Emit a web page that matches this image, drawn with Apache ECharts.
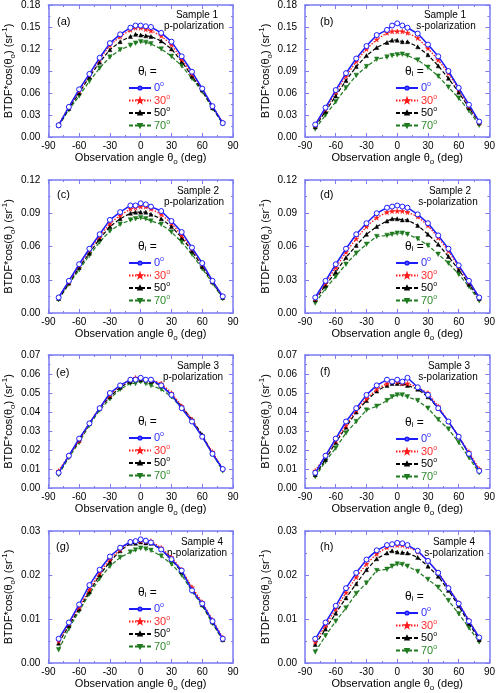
<!DOCTYPE html>
<html><head><meta charset="utf-8">
<script src="https://cdn.jsdelivr.net/npm/echarts@6/dist/echarts.min.js"></script>
<style>html,body{margin:0;padding:0;background:#fff}#c{width:498px;height:693px}</style>
</head><body><div id="c"></div>
<script>
const angles = [-80,-70,-60,-50,-40,-30,-20,-10,-5,0,5,10,20,30,40,50,60,70,80];
const incidences = ['0','30','50','70'];
const panelLetters = ['(a)','(b)','(c)','(d)','(e)','(f)','(g)','(h)'];
const sampleNames = ['Sample 1','Sample 1','Sample 2','Sample 2','Sample 3','Sample 3','Sample 4','Sample 4'];
const polNames = ['p-polarization','s-polarization','p-polarization','s-polarization','p-polarization','s-polarization','p-polarization','s-polarization'];
const yMaxes = [0.18,0.18,0.12,0.12,0.07,0.07,0.03,0.03];
const yIntervals = [0.03,0.03,0.03,0.03,0.01,0.01,0.01,0.01];

const s1p_0 = [0.016,0.041,0.065,0.086,0.108,0.128,0.140,0.149,0.152,0.152,0.151,0.150,0.142,0.130,0.110,0.089,0.066,0.042,0.019];
const s1p_30 = [0.017,0.041,0.063,0.085,0.106,0.125,0.137,0.146,0.149,0.149,0.147,0.145,0.138,0.126,0.106,0.086,0.066,0.042,0.020];
const s1p_50 = [0.016,0.039,0.060,0.082,0.102,0.119,0.130,0.137,0.140,0.139,0.138,0.137,0.131,0.120,0.103,0.083,0.064,0.040,0.019];
const s1p_70 = [0.015,0.037,0.056,0.076,0.094,0.109,0.119,0.125,0.128,0.130,0.129,0.127,0.120,0.110,0.097,0.080,0.062,0.039,0.018];

const s1s_0 = [0.017,0.040,0.064,0.087,0.107,0.124,0.139,0.146,0.152,0.155,0.152,0.149,0.141,0.126,0.110,0.090,0.067,0.044,0.021];
const s1s_30 = [0.016,0.038,0.061,0.083,0.103,0.120,0.133,0.142,0.144,0.144,0.144,0.142,0.135,0.121,0.105,0.087,0.065,0.042,0.020];
const s1s_50 = [0.014,0.035,0.056,0.077,0.096,0.111,0.122,0.129,0.132,0.132,0.130,0.130,0.123,0.112,0.097,0.080,0.061,0.040,0.019];
const s1s_70 = [0.011,0.030,0.048,0.067,0.084,0.096,0.106,0.109,0.111,0.112,0.113,0.111,0.105,0.095,0.083,0.068,0.053,0.036,0.016];

const s2p_0 = [0.014,0.029,0.044,0.058,0.071,0.084,0.091,0.097,0.097,0.099,0.098,0.096,0.092,0.083,0.073,0.059,0.045,0.029,0.015];
const s2p_30 = [0.014,0.028,0.043,0.057,0.069,0.081,0.088,0.094,0.095,0.096,0.096,0.094,0.089,0.081,0.070,0.058,0.044,0.029,0.015];
const s2p_50 = [0.013,0.027,0.041,0.054,0.067,0.078,0.085,0.090,0.091,0.091,0.091,0.089,0.085,0.078,0.068,0.056,0.042,0.028,0.014];
const s2p_70 = [0.012,0.026,0.039,0.052,0.064,0.074,0.080,0.084,0.085,0.086,0.085,0.083,0.080,0.073,0.064,0.053,0.040,0.027,0.013];

const s2s_0 = [0.014,0.029,0.044,0.058,0.071,0.081,0.090,0.095,0.096,0.097,0.096,0.095,0.089,0.081,0.070,0.058,0.043,0.029,0.014];
const s2s_30 = [0.013,0.027,0.041,0.055,0.067,0.078,0.086,0.091,0.092,0.092,0.092,0.091,0.087,0.079,0.068,0.056,0.042,0.028,0.014];
const s2s_50 = [0.012,0.025,0.037,0.050,0.061,0.071,0.078,0.083,0.085,0.085,0.084,0.084,0.079,0.071,0.062,0.051,0.039,0.026,0.013];
const s2s_70 = [0.009,0.022,0.033,0.044,0.054,0.062,0.069,0.070,0.071,0.072,0.072,0.071,0.067,0.061,0.053,0.045,0.035,0.024,0.011];

const s3p_0 = [0.008,0.017,0.026,0.034,0.042,0.050,0.054,0.057,0.057,0.058,0.057,0.057,0.054,0.049,0.042,0.035,0.027,0.018,0.010];
const s3p_30 = [0.009,0.017,0.025,0.034,0.042,0.049,0.054,0.057,0.058,0.058,0.057,0.057,0.055,0.050,0.043,0.036,0.027,0.019,0.010];
const s3p_50 = [0.008,0.017,0.025,0.034,0.042,0.048,0.053,0.056,0.057,0.057,0.057,0.056,0.054,0.049,0.043,0.036,0.028,0.018,0.010];
const s3p_70 = [0.007,0.016,0.024,0.033,0.041,0.047,0.052,0.055,0.055,0.056,0.055,0.054,0.052,0.048,0.042,0.035,0.027,0.018,0.009];

const s3s_0 = [0.008,0.017,0.026,0.035,0.042,0.049,0.054,0.057,0.056,0.057,0.056,0.058,0.053,0.049,0.042,0.035,0.027,0.018,0.009];
const s3s_30 = [0.009,0.017,0.025,0.033,0.041,0.047,0.052,0.055,0.056,0.056,0.055,0.055,0.053,0.050,0.043,0.035,0.027,0.019,0.010];
const s3s_50 = [0.007,0.015,0.024,0.032,0.040,0.046,0.051,0.054,0.055,0.055,0.055,0.054,0.052,0.048,0.042,0.035,0.027,0.018,0.009];
const s3s_70 = [0.006,0.014,0.021,0.029,0.035,0.041,0.043,0.046,0.048,0.049,0.049,0.048,0.046,0.042,0.036,0.031,0.024,0.016,0.008];

const s4p_0 = [0.0055,0.0092,0.0133,0.0177,0.0212,0.0242,0.0262,0.0275,0.0277,0.0281,0.0278,0.0274,0.0258,0.0236,0.0210,0.0165,0.0135,0.0095,0.0055];
const s4p_30 = [0.0050,0.0090,0.0127,0.0167,0.0205,0.0236,0.0258,0.0276,0.0278,0.0278,0.0277,0.0277,0.0262,0.0240,0.0212,0.0172,0.0138,0.0098,0.0058];
const s4p_50 = [0.0045,0.0085,0.0123,0.0162,0.0200,0.0230,0.0255,0.0272,0.0272,0.0275,0.0273,0.0272,0.0258,0.0235,0.0207,0.0168,0.0133,0.0093,0.0053];
const s4p_70 = [0.0030,0.0078,0.0118,0.0157,0.0192,0.0220,0.0240,0.0252,0.0257,0.0261,0.0259,0.0256,0.0243,0.0225,0.0200,0.0163,0.0130,0.0090,0.0052];

const s4s_0 = [0.0055,0.0092,0.0130,0.0170,0.0205,0.0235,0.0256,0.0268,0.0270,0.0273,0.0272,0.0268,0.0255,0.0232,0.0205,0.0170,0.0135,0.0095,0.0058];
const s4s_30 = [0.0048,0.0085,0.0123,0.0160,0.0195,0.0225,0.0248,0.0263,0.0268,0.0268,0.0268,0.0265,0.0253,0.0232,0.0206,0.0172,0.0136,0.0097,0.0058];
const s4s_50 = [0.0042,0.0077,0.0113,0.0148,0.0180,0.0212,0.0237,0.0250,0.0255,0.0252,0.0251,0.0250,0.0240,0.0220,0.0197,0.0165,0.0130,0.0090,0.0053];
const s4s_70 = [0.0025,0.0062,0.0095,0.0125,0.0158,0.0182,0.0210,0.0213,0.0220,0.0225,0.0224,0.0220,0.0208,0.0190,0.0172,0.0142,0.0112,0.0080,0.0048];

const panelSeries = [
  [s1p_0,s1p_30,s1p_50,s1p_70],[s1s_0,s1s_30,s1s_50,s1s_70],
  [s2p_0,s2p_30,s2p_50,s2p_70],[s2s_0,s2s_30,s2s_50,s2s_70],
  [s3p_0,s3p_30,s3p_50,s3p_70],[s3s_0,s3s_30,s3s_50,s3s_70],
  [s4p_0,s4p_30,s4p_50,s4p_70],[s4s_0,s4s_30,s4s_50,s4s_70]
];

// ---- styling / layout ----
const FONT = 'Liberation Sans, Arial, sans-serif';
const frameColor = '#7b7bf2';
const colors = ['#1c1cff','#ff1a1a','#000000','#1f7a1f'];
const legendColors = ['#2a2aff','#ff2a2a','#000000','#2e8b2e'];
const colKeys = ['b','r','k','g'];
const starPath = 'path://M50,0 L61,35 L98,35 L68,57 L79,91 L50,70 L21,91 L32,57 L2,35 L39,35 Z';
const styles = [
  {symbol:'circle', size:5, line:{type:'solid', width:1.5}, fill:'#fff'},
  {symbol:starPath, size:5, line:{type:[1.5,1.5], width:1.3}, fill:null},
  {symbol:'triangle', size:4, line:{type:[4,2], width:1.2}, fill:null},
  {symbol:'triangle', size:4.5, rotate:180, line:{type:[4,2], width:1.2}, fill:null}
];
const colLeft = [42, 305], colWidth = [191, 188];
const rowTop = [4, 180, 355, 531], gridH = 133;
const legendLeft = [128, 395];
const legendTopOff = [77, 77, 76, 76, 76, 77, 71, 75];
const letterPos = [[57,18],[320,18],[57,15],[320,15],[56,18],[320,17],[56,16],[320,16]];
const sampleCx = [197,445,198,450,198,449,202,454];
const polCx = [194,446,194,448,193,448,197,454];

const grids = [], xAxes = [], yAxes = [], series = [], legends = [], graphics = [];
const rich = {m:{fontSize:11, lineHeight:16, fontFamily:FONT, color:'#000'},
              sub:{fontSize:8, verticalAlign:'bottom', lineHeight:9, fontFamily:FONT, color:'#000'},
              sup:{fontSize:8, verticalAlign:'top', lineHeight:6, fontFamily:FONT, color:'#000'}};
const legendRich = {};
colKeys.forEach((k,i)=>{
  legendRich['n'+k] = {color:legendColors[i], fontSize:11, lineHeight:14, fontFamily:FONT};
  legendRich['s'+k] = {color:legendColors[i], fontSize:7, lineHeight:6, verticalAlign:'top', fontFamily:FONT};
});

for (let p=0;p<8;p++){
  const c = p%2, r = Math.floor(p/2);
  grids.push({left:colLeft[c], top:rowTop[r], width:colWidth[c], height:gridH, containLabel:false});
  const tickCommon = {axisLine:{show:true, onZero:false, lineStyle:{color:frameColor, width:1.5}},
    axisTick:{show:true, inside:true, length:4, lineStyle:{color:frameColor, width:1}},
    minorTick:{show:true, splitNumber:2, length:2, lineStyle:{color:frameColor, width:1}},
    splitLine:{show:false}, minorSplitLine:{show:false}};
  xAxes.push(Object.assign({gridIndex:p, type:'value', min:-90, max:90, interval:30, position:'bottom',
    axisLabel:{color:'#000', fontSize:10, margin:4, fontFamily:FONT},
    name:'{m|Observation angle θ}{sub|o}{m| (deg)}', nameLocation:'middle', nameGap:13,
    nameTextStyle:{color:'#000', fontSize:11, fontFamily:FONT, rich:rich}}, tickCommon));
  xAxes.push(Object.assign({gridIndex:p, type:'value', min:-90, max:90, interval:30, position:'top',
    axisLabel:{show:false}}, tickCommon));
  yAxes.push(Object.assign({gridIndex:p, type:'value', min:0, max:yMaxes[p], interval:yIntervals[p], position:'left',
    axisLabel:{color:'#000', fontSize:10, margin:8, fontFamily:FONT, formatter:v=>v.toFixed(2)},
    name:'{m|BTDF*cos(θ}{sub|o}{m|) (sr}{sup|-1}{m|)}', nameLocation:'middle', nameRotate:90, nameGap:27,
    nameTextStyle:{color:'#000', fontSize:11, fontFamily:FONT, rich:rich}}, tickCommon));
  yAxes.push(Object.assign({gridIndex:p, type:'value', min:0, max:yMaxes[p], interval:yIntervals[p], position:'right',
    axisLabel:{show:false}}, tickCommon));
  panelSeries[p].forEach((vals,k)=>{
    const st = styles[k];
    series.push({
      type:'line', name:incidences[k], xAxisIndex:2*p, yAxisIndex:2*p,
      data: angles.map((a,j)=>[a, vals[j]]),
      symbol:st.symbol, symbolSize:st.size, symbolRotate:st.rotate||0, showAllSymbol:true,
      lineStyle:{color:colors[k], width:st.line.width, type:st.line.type},
      itemStyle:{color: st.fill || colors[k], borderColor:colors[k], borderWidth: st.fill?1:0.5},
      silent:true, animation:false, z: 10-k
    });
  });
  const lt = rowTop[r] + legendTopOff[p];
  legends.push({
    orient:'vertical', left:legendLeft[c], top:lt, itemWidth:22, itemHeight:4, itemGap:0,
    padding:0, selectedMode:false,
    data: incidences.map((n,k)=>({name:n})),
    formatter: name => { const k = colKeys[incidences.indexOf(name)]; return '{n'+k+'|'+name+'}{s'+k+'|o}'; },
    textStyle:{fontSize:11, fontFamily:FONT, rich:legendRich, padding:[0,0,0,-2]}
  });
  graphics.push({type:'text', left:legendLeft[c]+10, top:lt-15, style:{
    text:'θ{sub|i} =', font:'12px '+FONT, fill:'#000',
    rich:{sub:{fontSize:8, verticalAlign:'bottom', lineHeight:9, fontFamily:FONT, fill:'#000'}}}});
  graphics.push({type:'text', left:letterPos[p][0], top:rowTop[r]+letterPos[p][1]-6,
    style:{text:panelLetters[p], font:'11px '+FONT, fill:'#000'}});
  graphics.push({type:'text', x:sampleCx[p], y:rowTop[r]+11, style:{text:sampleNames[p], font:'10px '+FONT, fill:'#000', align:'center', verticalAlign:'middle'}});
  graphics.push({type:'text', x:polCx[p], y:rowTop[r]+22, style:{text:polNames[p], font:'10px '+FONT, fill:'#000', align:'center', verticalAlign:'middle'}});
}

const chart = echarts.init(document.getElementById('c'), null, {renderer:'canvas'});
chart.setOption({
  backgroundColor:'#fff', animation:false,
  grid:grids, xAxis:xAxes, yAxis:yAxes, series:series, legend:legends, graphic:graphics
});
</script></body></html>
